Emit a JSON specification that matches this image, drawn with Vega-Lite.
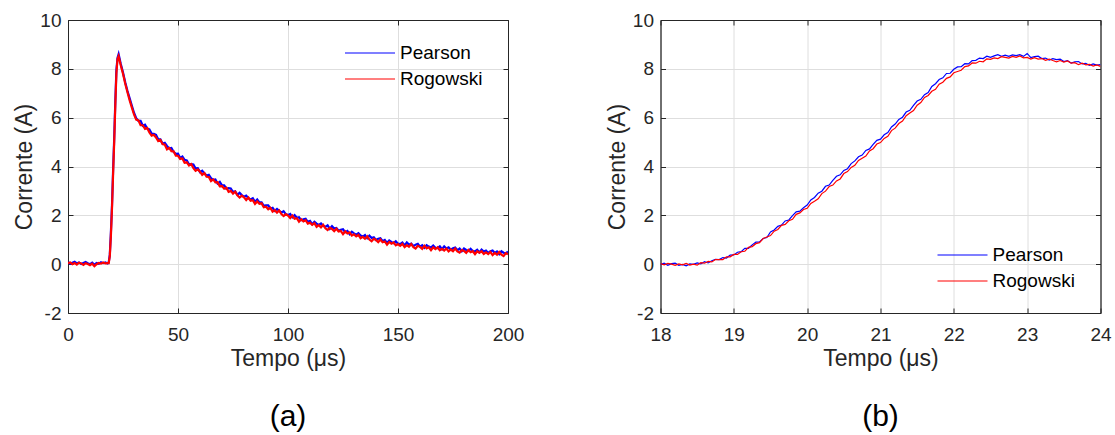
{
  "$schema": "https://vega.github.io/schema/vega-lite/v6.json",
  "background": "white",
  "padding": {"left": 13, "top": 10, "right": 0, "bottom": 5},
  "bounds": "flush",
  "spacing": 152.5,
  "config": {
    "font": "Liberation Sans",
    "view": {"stroke": "#262626", "strokeWidth": 1},
    "axis": {
      "domainColor": "#262626",
      "tickColor": "#262626",
      "labelColor": "#262626",
      "titleColor": "#262626",
      "labelFontSize": 19,
      "titleFontSize": 23,
      "titleFontWeight": "normal",
      "gridColor": "#dedede",
      "gridWidth": 1,
      "tickSize": -5,
      "labelFlush": false,
      "labelExpr": "replace(datum.label, '−', '-')"
    },
    "axisX": {"labelFontSize": 19, "labelPadding": 17, "titlePadding": 3},
    "axisY": {"labelFontSize": 19, "labelPadding": 12, "titlePadding": 3},
    "legend": {
      "orient": "none",
      "title": null,
      "symbolType": "stroke",
      "symbolSize": 2500,
      "symbolStrokeWidth": 1.2,
      "labelFontSize": 19,
      "labelColor": "#000000",
      "labelOffset": 4,
      "padding": 0,
      "clipHeight": 20,
      "rowPadding": 6
    },
    "title": {"fontSize": 30, "fontWeight": "normal", "color": "#000000", "orient": "bottom", "offset": 32}
  },
  "resolve": {"scale": {"color": "independent"}, "legend": {"color": "independent"}},
  "datasets": {
    "pulso": [
      {"t":0,"Pearson":0.08,"Rogowski":0.04},{"t":1,"Pearson":0.02,"Rogowski":0.07},{"t":2,"Pearson":0.06,"Rogowski":0.00},
      {"t":3,"Pearson":0.10,"Rogowski":0.05},{"t":4,"Pearson":0.03,"Rogowski":-0.02},{"t":5,"Pearson":0.07,"Rogowski":0.06},
      {"t":6,"Pearson":0.01,"Rogowski":0.03},{"t":7,"Pearson":0.05,"Rogowski":-0.03},{"t":8,"Pearson":0.09,"Rogowski":0.04},
      {"t":9,"Pearson":0.04,"Rogowski":0.01},{"t":10,"Pearson":0.00,"Rogowski":-0.04},{"t":11,"Pearson":0.06,"Rogowski":0.02},
      {"t":12,"Pearson":-0.03,"Rogowski":-0.08},{"t":13,"Pearson":0.05,"Rogowski":0.00},{"t":14,"Pearson":0.02,"Rogowski":0.05},
      {"t":15,"Pearson":0.08,"Rogowski":0.02},{"t":16,"Pearson":0.04,"Rogowski":0.07},{"t":17,"Pearson":0.07,"Rogowski":0.03},
      {"t":18,"Pearson":0.03,"Rogowski":0.04},{"t":18.5,"Pearson":0.06,"Rogowski":0.04},{"t":19,"Pearson":0.38,"Rogowski":0.33},
      {"t":19.5,"Pearson":1.30,"Rogowski":1.17},{"t":20,"Pearson":2.40,"Rogowski":2.30},{"t":20.5,"Pearson":3.85,"Rogowski":3.70},
      {"t":21,"Pearson":5.15,"Rogowski":5.00},{"t":21.5,"Pearson":6.65,"Rogowski":6.50},{"t":22,"Pearson":7.95,"Rogowski":7.82},
      {"t":22.5,"Pearson":8.45,"Rogowski":8.40},{"t":23,"Pearson":8.60,"Rogowski":8.52},{"t":24,"Pearson":8.20,"Rogowski":8.14},
      {"t":25,"Pearson":7.85,"Rogowski":7.80},{"t":26,"Pearson":7.45,"Rogowski":7.40},{"t":27,"Pearson":7.10,"Rogowski":7.05},
      {"t":28,"Pearson":6.80,"Rogowski":6.72},{"t":29,"Pearson":6.50,"Rogowski":6.42},{"t":30,"Pearson":6.20,"Rogowski":6.13},
      {"t":31,"Pearson":5.98,"Rogowski":5.92},
      {"t":32,"Pearson":5.87,"Rogowski":5.89},{"t":33,"Pearson":5.87,"Rogowski":5.69},{"t":34,"Pearson":5.67,"Rogowski":5.69},
      {"t":35,"Pearson":5.71,"Rogowski":5.54},{"t":36,"Pearson":5.55,"Rogowski":5.58},{"t":37,"Pearson":5.52,"Rogowski":5.39},
      {"t":38,"Pearson":5.35,"Rogowski":5.26},{"t":39,"Pearson":5.34,"Rogowski":5.30},{"t":40,"Pearson":5.30,"Rogowski":5.19},
      {"t":41,"Pearson":5.12,"Rogowski":5.04},{"t":42,"Pearson":5.11,"Rogowski":5.09},{"t":43,"Pearson":4.93,"Rogowski":4.92},
      {"t":44,"Pearson":4.97,"Rogowski":4.89},{"t":45,"Pearson":4.84,"Rogowski":4.70},{"t":46,"Pearson":4.74,"Rogowski":4.76},
      {"t":47,"Pearson":4.76,"Rogowski":4.63},{"t":48,"Pearson":4.60,"Rogowski":4.62},{"t":49,"Pearson":4.52,"Rogowski":4.44},
      {"t":50,"Pearson":4.53,"Rogowski":4.44},{"t":51,"Pearson":4.35,"Rogowski":4.31},{"t":52,"Pearson":4.41,"Rogowski":4.33},
      {"t":53,"Pearson":4.27,"Rogowski":4.15},{"t":54,"Pearson":4.25,"Rogowski":4.17},{"t":55,"Pearson":4.09,"Rogowski":4.04},
      {"t":56,"Pearson":4.10,"Rogowski":4.10},{"t":57,"Pearson":4.08,"Rogowski":3.93},{"t":58,"Pearson":3.92,"Rogowski":3.82},
      {"t":59,"Pearson":3.93,"Rogowski":3.88},{"t":60,"Pearson":3.77,"Rogowski":3.79},{"t":61,"Pearson":3.83,"Rogowski":3.66},
      {"t":62,"Pearson":3.72,"Rogowski":3.73},{"t":63,"Pearson":3.63,"Rogowski":3.58},{"t":64,"Pearson":3.66,"Rogowski":3.57},
      {"t":65,"Pearson":3.52,"Rogowski":3.40},{"t":66,"Pearson":3.45,"Rogowski":3.47},{"t":67,"Pearson":3.47,"Rogowski":3.35},
      {"t":68,"Pearson":3.30,"Rogowski":3.36},{"t":69,"Pearson":3.37,"Rogowski":3.19},{"t":70,"Pearson":3.23,"Rogowski":3.20},
      {"t":71,"Pearson":3.23,"Rogowski":3.09},{"t":72,"Pearson":3.09,"Rogowski":3.13},{"t":73,"Pearson":3.11,"Rogowski":2.96},
      {"t":74,"Pearson":3.10,"Rogowski":3.00},{"t":75,"Pearson":2.95,"Rogowski":2.89},{"t":76,"Pearson":2.98,"Rogowski":2.97},
      {"t":77,"Pearson":2.84,"Rogowski":2.82},{"t":78,"Pearson":2.92,"Rogowski":2.73},{"t":79,"Pearson":2.83,"Rogowski":2.81},
      {"t":80,"Pearson":2.76,"Rogowski":2.74},{"t":81,"Pearson":2.81,"Rogowski":2.63},{"t":82,"Pearson":2.70,"Rogowski":2.73},
      {"t":83,"Pearson":2.65,"Rogowski":2.60},{"t":84,"Pearson":2.70,"Rogowski":2.62},{"t":85,"Pearson":2.55,"Rogowski":2.47},
      {"t":86,"Pearson":2.65,"Rogowski":2.57},{"t":87,"Pearson":2.53,"Rogowski":2.47},{"t":88,"Pearson":2.53,"Rogowski":2.49},
      {"t":89,"Pearson":2.39,"Rogowski":2.33},{"t":90,"Pearson":2.41,"Rogowski":2.35},{"t":91,"Pearson":2.41,"Rogowski":2.25},
      {"t":92,"Pearson":2.28,"Rogowski":2.31},{"t":93,"Pearson":2.31,"Rogowski":2.15},{"t":94,"Pearson":2.18,"Rogowski":2.21},
      {"t":95,"Pearson":2.26,"Rogowski":2.11},{"t":96,"Pearson":2.18,"Rogowski":2.20},{"t":97,"Pearson":2.11,"Rogowski":2.05},
      {"t":98,"Pearson":2.17,"Rogowski":1.97},{"t":99,"Pearson":2.05,"Rogowski":2.05},{"t":100,"Pearson":2.01,"Rogowski":1.99},
      {"t":101,"Pearson":2.06,"Rogowski":1.89},{"t":102,"Pearson":1.92,"Rogowski":1.99},{"t":103,"Pearson":2.01,"Rogowski":1.86},
      {"t":104,"Pearson":1.90,"Rogowski":1.88},{"t":105,"Pearson":1.92,"Rogowski":1.74},{"t":106,"Pearson":1.80,"Rogowski":1.84},
      {"t":107,"Pearson":1.84,"Rogowski":1.75},{"t":108,"Pearson":1.86,"Rogowski":1.80},{"t":109,"Pearson":1.73,"Rogowski":1.66},
      {"t":110,"Pearson":1.77,"Rogowski":1.70},{"t":111,"Pearson":1.64,"Rogowski":1.61},{"t":112,"Pearson":1.74,"Rogowski":1.68},
      {"t":113,"Pearson":1.66,"Rogowski":1.53},{"t":114,"Pearson":1.61,"Rogowski":1.60},{"t":115,"Pearson":1.67,"Rogowski":1.51},
      {"t":116,"Pearson":1.57,"Rogowski":1.61},{"t":117,"Pearson":1.53,"Rogowski":1.47},{"t":118,"Pearson":1.59,"Rogowski":1.40},
      {"t":119,"Pearson":1.45,"Rogowski":1.49},{"t":120,"Pearson":1.56,"Rogowski":1.44},{"t":121,"Pearson":1.46,"Rogowski":1.35},
      {"t":122,"Pearson":1.48,"Rogowski":1.45},{"t":123,"Pearson":1.37,"Rogowski":1.34},{"t":124,"Pearson":1.41,"Rogowski":1.36},
      {"t":125,"Pearson":1.43,"Rogowski":1.23},{"t":126,"Pearson":1.31,"Rogowski":1.34},{"t":127,"Pearson":1.36,"Rogowski":1.26},
      {"t":128,"Pearson":1.23,"Rogowski":1.30},{"t":129,"Pearson":1.33,"Rogowski":1.17},{"t":130,"Pearson":1.26,"Rogowski":1.22},
      {"t":131,"Pearson":1.21,"Rogowski":1.14},{"t":132,"Pearson":1.27,"Rogowski":1.20},{"t":133,"Pearson":1.17,"Rogowski":1.06},
      {"t":134,"Pearson":1.13,"Rogowski":1.12},{"t":135,"Pearson":1.19,"Rogowski":1.04},{"t":136,"Pearson":1.06,"Rogowski":1.14},
      {"t":137,"Pearson":1.17,"Rogowski":1.01},{"t":138,"Pearson":1.07,"Rogowski":0.94},{"t":139,"Pearson":1.10,"Rogowski":1.04},
      {"t":140,"Pearson":0.99,"Rogowski":0.99},{"t":141,"Pearson":1.04,"Rogowski":0.90},{"t":142,"Pearson":1.06,"Rogowski":1.01},
      {"t":143,"Pearson":0.94,"Rogowski":0.90},{"t":144,"Pearson":0.99,"Rogowski":0.93},{"t":145,"Pearson":0.87,"Rogowski":0.80},
      {"t":146,"Pearson":0.97,"Rogowski":0.91},{"t":147,"Pearson":0.91,"Rogowski":0.84},{"t":148,"Pearson":0.86,"Rogowski":0.89},
      {"t":149,"Pearson":0.94,"Rogowski":0.77},{"t":150,"Pearson":0.84,"Rogowski":0.82},{"t":151,"Pearson":0.82,"Rogowski":0.75},
      {"t":152,"Pearson":0.89,"Rogowski":0.83},{"t":153,"Pearson":0.77,"Rogowski":0.70},{"t":154,"Pearson":0.89,"Rogowski":0.78},
      {"t":155,"Pearson":0.80,"Rogowski":0.71},{"t":156,"Pearson":0.84,"Rogowski":0.82},{"t":157,"Pearson":0.74,"Rogowski":0.70},
      {"t":158,"Pearson":0.80,"Rogowski":0.64},{"t":159,"Pearson":0.83,"Rogowski":0.75},{"t":160,"Pearson":0.72,"Rogowski":0.71},
      {"t":161,"Pearson":0.78,"Rogowski":0.63},{"t":162,"Pearson":0.67,"Rogowski":0.75},{"t":163,"Pearson":0.78,"Rogowski":0.65},
      {"t":164,"Pearson":0.72,"Rogowski":0.69},{"t":165,"Pearson":0.68,"Rogowski":0.57},{"t":166,"Pearson":0.76,"Rogowski":0.69},
      {"t":167,"Pearson":0.67,"Rogowski":0.62},{"t":168,"Pearson":0.66,"Rogowski":0.69},{"t":169,"Pearson":0.73,"Rogowski":0.57},
      {"t":170,"Pearson":0.61,"Rogowski":0.63},{"t":171,"Pearson":0.73,"Rogowski":0.56},{"t":172,"Pearson":0.64,"Rogowski":0.64},
      {"t":173,"Pearson":0.69,"Rogowski":0.52},{"t":174,"Pearson":0.59,"Rogowski":0.60},{"t":175,"Pearson":0.65,"Rogowski":0.53},
      {"t":176,"Pearson":0.68,"Rogowski":0.64},{"t":177,"Pearson":0.57,"Rogowski":0.52},{"t":178,"Pearson":0.64,"Rogowski":0.47},
      {"t":179,"Pearson":0.53,"Rogowski":0.58},{"t":180,"Pearson":0.64,"Rogowski":0.54},{"t":181,"Pearson":0.58,"Rogowski":0.46},
      {"t":182,"Pearson":0.54,"Rogowski":0.58},{"t":183,"Pearson":0.63,"Rogowski":0.49},{"t":184,"Pearson":0.54,"Rogowski":0.53},
      {"t":185,"Pearson":0.52,"Rogowski":0.41},{"t":186,"Pearson":0.59,"Rogowski":0.53},{"t":187,"Pearson":0.48,"Rogowski":0.47},
      {"t":188,"Pearson":0.60,"Rogowski":0.53},{"t":189,"Pearson":0.52,"Rogowski":0.42},{"t":190,"Pearson":0.56,"Rogowski":0.48},
      {"t":191,"Pearson":0.46,"Rogowski":0.41},{"t":192,"Pearson":0.53,"Rogowski":0.50},{"t":193,"Pearson":0.56,"Rogowski":0.37},
      {"t":194,"Pearson":0.46,"Rogowski":0.46},{"t":195,"Pearson":0.52,"Rogowski":0.39},{"t":196,"Pearson":0.41,"Rogowski":0.50},
      {"t":197,"Pearson":0.53,"Rogowski":0.39},{"t":198,"Pearson":0.47,"Rogowski":0.33},{"t":199,"Pearson":0.44,"Rogowski":0.45},
      {"t":200,"Pearson":0.52,"Rogowski":0.41}
    ],
    "subida": [
      {"t":18.00,"Pearson":-0.02,"Rogowski":0.02},{"t":18.05,"Pearson":0.04,"Rogowski":-0.03},{"t":18.10,"Pearson":-0.05,"Rogowski":0.03},
      {"t":18.15,"Pearson":0.02,"Rogowski":0.00},{"t":18.20,"Pearson":0.04,"Rogowski":-0.05},{"t":18.25,"Pearson":-0.05,"Rogowski":0.01},
      {"t":18.30,"Pearson":-0.01,"Rogowski":-0.03},{"t":18.35,"Pearson":-0.07,"Rogowski":0.03},{"t":18.40,"Pearson":0.01,"Rogowski":-0.04},
      {"t":18.45,"Pearson":-0.01,"Rogowski":0.00},{"t":18.50,"Pearson":0.05,"Rogowski":-0.04},{"t":18.55,"Pearson":0.01,"Rogowski":0.06},
      {"t":18.60,"Pearson":0.10,"Rogowski":0.04},{"t":18.65,"Pearson":0.05,"Rogowski":0.11},{"t":18.70,"Pearson":0.14,"Rogowski":0.09},
      {"t":18.75,"Pearson":0.20,"Rogowski":0.19},{"t":18.80,"Pearson":0.19,"Rogowski":0.19},{"t":18.85,"Pearson":0.27,"Rogowski":0.19},
      {"t":18.90,"Pearson":0.25,"Rogowski":0.30},{"t":18.95,"Pearson":0.37,"Rogowski":0.30},{"t":19.00,"Pearson":0.38,"Rogowski":0.40},
      {"t":19.05,"Pearson":0.49,"Rogowski":0.40},{"t":19.10,"Pearson":0.51,"Rogowski":0.51},{"t":19.15,"Pearson":0.65,"Rogowski":0.53},
      {"t":19.20,"Pearson":0.65,"Rogowski":0.69},{"t":19.25,"Pearson":0.79,"Rogowski":0.72},{"t":19.30,"Pearson":0.90,"Rogowski":0.84},
      {"t":19.35,"Pearson":0.91,"Rogowski":0.88},{"t":19.40,"Pearson":1.05,"Rogowski":1.05},{"t":19.45,"Pearson":1.09,"Rogowski":1.11},
      {"t":19.50,"Pearson":1.32,"Rogowski":1.17},{"t":19.55,"Pearson":1.40,"Rogowski":1.35},{"t":19.60,"Pearson":1.55,"Rogowski":1.42},
      {"t":19.65,"Pearson":1.60,"Rogowski":1.59},{"t":19.70,"Pearson":1.77,"Rogowski":1.63},{"t":19.75,"Pearson":1.81,"Rogowski":1.78},
      {"t":19.80,"Pearson":1.99,"Rogowski":1.84},{"t":19.85,"Pearson":2.14,"Rogowski":2.04},{"t":19.90,"Pearson":2.17,"Rogowski":2.10},
      {"t":19.95,"Pearson":2.31,"Rogowski":2.24},{"t":20.00,"Pearson":2.42,"Rogowski":2.29},{"t":20.05,"Pearson":2.63,"Rogowski":2.49},
      {"t":20.10,"Pearson":2.73,"Rogowski":2.58},{"t":20.15,"Pearson":2.91,"Rogowski":2.68},{"t":20.20,"Pearson":2.99,"Rogowski":2.89},
      {"t":20.25,"Pearson":3.19,"Rogowski":2.99},{"t":20.30,"Pearson":3.24,"Rogowski":3.18},{"t":20.35,"Pearson":3.43,"Rogowski":3.24},
      {"t":20.40,"Pearson":3.60,"Rogowski":3.41},{"t":20.45,"Pearson":3.66,"Rogowski":3.49},{"t":20.50,"Pearson":3.84,"Rogowski":3.71},
      {"t":20.55,"Pearson":3.91,"Rogowski":3.79},{"t":20.60,"Pearson":4.12,"Rogowski":3.96},{"t":20.65,"Pearson":4.23,"Rogowski":4.05},
      {"t":20.70,"Pearson":4.40,"Rogowski":4.25},{"t":20.75,"Pearson":4.47,"Rogowski":4.34},{"t":20.80,"Pearson":4.66,"Rogowski":4.43},
      {"t":20.85,"Pearson":4.72,"Rogowski":4.64},{"t":20.90,"Pearson":4.91,"Rogowski":4.73},{"t":20.95,"Pearson":5.07,"Rogowski":4.92},
      {"t":21.00,"Pearson":5.12,"Rogowski":4.98},{"t":21.05,"Pearson":5.30,"Rogowski":5.15},{"t":21.10,"Pearson":5.39,"Rogowski":5.24},
      {"t":21.15,"Pearson":5.62,"Rogowski":5.47},{"t":21.20,"Pearson":5.74,"Rogowski":5.57},{"t":21.25,"Pearson":5.93,"Rogowski":5.76},
      {"t":21.30,"Pearson":6.02,"Rogowski":5.86},{"t":21.35,"Pearson":6.23,"Rogowski":6.08},{"t":21.40,"Pearson":6.30,"Rogowski":6.19},
      {"t":21.45,"Pearson":6.50,"Rogowski":6.29},{"t":21.50,"Pearson":6.68,"Rogowski":6.51},{"t":21.55,"Pearson":6.75,"Rogowski":6.62},
      {"t":21.60,"Pearson":6.94,"Rogowski":6.83},{"t":21.65,"Pearson":7.03,"Rogowski":6.91},{"t":21.70,"Pearson":7.28,"Rogowski":7.08},
      {"t":21.75,"Pearson":7.39,"Rogowski":7.16},{"t":21.80,"Pearson":7.56,"Rogowski":7.37},{"t":21.85,"Pearson":7.63,"Rogowski":7.45},
      {"t":21.90,"Pearson":7.81,"Rogowski":7.61},{"t":21.95,"Pearson":7.82,"Rogowski":7.67},{"t":22.00,"Pearson":7.98,"Rogowski":7.84},
      {"t":22.05,"Pearson":8.08,"Rogowski":7.89},{"t":22.10,"Pearson":8.09,"Rogowski":7.94},{"t":22.15,"Pearson":8.21,"Rogowski":8.09},
      {"t":22.20,"Pearson":8.20,"Rogowski":8.12},{"t":22.25,"Pearson":8.34,"Rogowski":8.24},{"t":22.30,"Pearson":8.35,"Rogowski":8.23},
      {"t":22.35,"Pearson":8.44,"Rogowski":8.31},{"t":22.40,"Pearson":8.42,"Rogowski":8.29},{"t":22.45,"Pearson":8.52,"Rogowski":8.41},
      {"t":22.50,"Pearson":8.47,"Rogowski":8.39},{"t":22.55,"Pearson":8.53,"Rogowski":8.45},{"t":22.60,"Pearson":8.58,"Rogowski":8.42},
      {"t":22.65,"Pearson":8.51,"Rogowski":8.50},{"t":22.70,"Pearson":8.56,"Rogowski":8.47},{"t":22.75,"Pearson":8.51,"Rogowski":8.44},
      {"t":22.80,"Pearson":8.57,"Rogowski":8.51},{"t":22.85,"Pearson":8.54,"Rogowski":8.47},{"t":22.90,"Pearson":8.58,"Rogowski":8.53},
      {"t":22.95,"Pearson":8.51,"Rogowski":8.45},{"t":23.00,"Pearson":8.63,"Rogowski":8.47},{"t":23.05,"Pearson":8.46,"Rogowski":8.40},
      {"t":23.10,"Pearson":8.50,"Rogowski":8.46},{"t":23.15,"Pearson":8.52,"Rogowski":8.40},{"t":23.20,"Pearson":8.42,"Rogowski":8.42},
      {"t":23.25,"Pearson":8.44,"Rogowski":8.35},{"t":23.30,"Pearson":8.36,"Rogowski":8.40},{"t":23.35,"Pearson":8.42,"Rogowski":8.34},
      {"t":23.40,"Pearson":8.38,"Rogowski":8.29},{"t":23.45,"Pearson":8.40,"Rogowski":8.34},{"t":23.50,"Pearson":8.30,"Rogowski":8.28},
      {"t":23.55,"Pearson":8.34,"Rogowski":8.32},{"t":23.60,"Pearson":8.24,"Rogowski":8.23},{"t":23.65,"Pearson":8.29,"Rogowski":8.25},
      {"t":23.70,"Pearson":8.30,"Rogowski":8.17},{"t":23.75,"Pearson":8.20,"Rogowski":8.23},{"t":23.80,"Pearson":8.22,"Rogowski":8.16},
      {"t":23.85,"Pearson":8.14,"Rogowski":8.18},{"t":23.90,"Pearson":8.20,"Rogowski":8.11},{"t":23.95,"Pearson":8.15,"Rogowski":8.16},
      {"t":24.00,"Pearson":8.17,"Rogowski":8.10}
    ]
  },
  "hconcat": [
    {
      "width": 440,
      "height": 293,
      "data": {"name": "pulso"},
      "transform": [{"fold": ["Pearson", "Rogowski"], "as": ["s", "i"]}],
      "title": {"text": "(a)"},
      "layer": [
        {
          "mark": {"type": "line", "strokeWidth": 2.2, "clip": true},
          "encoding": {
            "x": {"field": "t", "type": "quantitative", "scale": {"domain": [0, 200], "nice": false},
                  "axis": {"values": [0, 50, 100, 150, 200], "title": "Tempo (μs)"}},
            "y": {"field": "i", "type": "quantitative", "scale": {"domain": [-2, 10], "nice": false},
                  "axis": {"values": [-2, 0, 2, 4, 6, 8, 10], "title": "Corrente (A)"}},
            "color": {"field": "s", "type": "nominal",
                      "scale": {"domain": ["Pearson", "Rogowski"], "range": ["#0000ff", "#ff0000"]},
                      "legend": {"legendX": 276, "legendY": 23}}
          }
        },
        {
          "mark": {"type": "line", "opacity": 0, "clip": true},
          "encoding": {
            "x": {"field": "t", "type": "quantitative",
                  "axis": {"orient": "top", "values": [0, 50, 100, 150, 200], "labels": false, "title": null, "grid": false}},
            "y": {"field": "i", "type": "quantitative",
                  "axis": {"orient": "right", "values": [-2, 0, 2, 4, 6, 8, 10], "labels": false, "title": null, "grid": false}}
          }
        }
      ],
      "resolve": {"axis": {"x": "independent", "y": "independent"}}
    },
    {
      "width": 440,
      "height": 293,
      "data": {"name": "subida"},
      "transform": [{"fold": ["Pearson", "Rogowski"], "as": ["s", "i"]}],
      "title": {"text": "(b)"},
      "layer": [
        {
          "mark": {"type": "line", "strokeWidth": 1.2, "clip": true},
          "encoding": {
            "x": {"field": "t", "type": "quantitative", "scale": {"domain": [18, 24], "nice": false},
                  "axis": {"values": [18, 19, 20, 21, 22, 23, 24], "title": "Tempo (μs)"}},
            "y": {"field": "i", "type": "quantitative", "scale": {"domain": [-2, 10], "nice": false},
                  "axis": {"values": [-2, 0, 2, 4, 6, 8, 10], "title": "Corrente (A)"}},
            "color": {"field": "s", "type": "nominal",
                      "scale": {"domain": ["Pearson", "Rogowski"], "range": ["#0000ff", "#ff0000"]},
                      "legend": {"legendX": 276, "legendY": 225}}
          }
        },
        {
          "mark": {"type": "line", "opacity": 0, "clip": true},
          "encoding": {
            "x": {"field": "t", "type": "quantitative",
                  "axis": {"orient": "top", "values": [18, 19, 20, 21, 22, 23, 24], "labels": false, "title": null, "grid": false}},
            "y": {"field": "i", "type": "quantitative",
                  "axis": {"orient": "right", "values": [-2, 0, 2, 4, 6, 8, 10], "labels": false, "title": null, "grid": false}}
          }
        }
      ],
      "resolve": {"axis": {"x": "independent", "y": "independent"}}
    }
  ]
}
